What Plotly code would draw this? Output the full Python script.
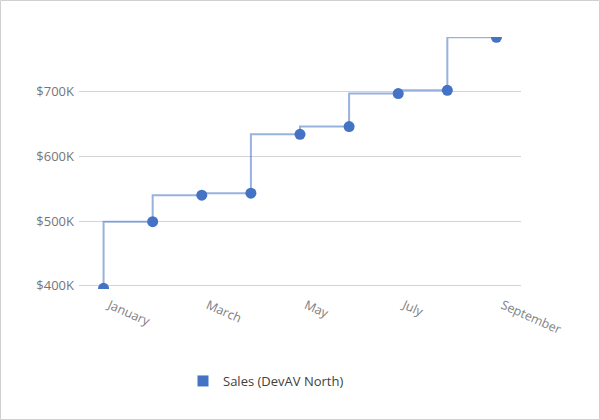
import plotly.graph_objects as go

months = ["January", "February", "March", "April", "May", "June", "July", "August", "September"]
sales = [396000, 499000, 540000, 543000, 634000, 646000, 697000, 702000, 784000]
y_tickvals = [400000, 500000, 600000, 700000]
y_ticktext = ["$400K", "$500K", "$600K", "$700K"]
x_tickvals = ["January", "March", "May", "July", "September"]
series_name = "Sales (DevAV North)"

W, H = 600, 420
ML, MR, MT, MB = 79, 79, 37, 131
pw, ph = W - ML - MR, H - MT - MB

fig = go.Figure()
fig.add_trace(go.Scatter(
    x=months, y=sales, mode="lines+markers", line_shape="vh",
    line=dict(color="rgba(68,114,196,0.55)", width=2),
    marker=dict(color="#4472c4", size=11),
    showlegend=False, cliponaxis=True,
))
fig.add_trace(go.Scatter(
    x=[None], y=[None], mode="markers", name=series_name,
    marker=dict(color="#4472c4", size=11, symbol="square"),
    showlegend=True,
))

fig.update_layout(
    width=W, height=H,
    margin=dict(l=ML, r=MR, t=MT, b=MB, pad=0),
    paper_bgcolor="white", plot_bgcolor="white",
    font=dict(family="Open Sans, Noto Sans, sans-serif", size=12, color="#767676"),
    xaxis=dict(
        type="category", categoryorder="array", categoryarray=months,
        range=[-0.5, len(months) - 0.5],
        tickmode="array", tickvals=x_tickvals, ticktext=x_tickvals,
        tickangle=24, showgrid=False, zeroline=False, showline=False,
        ticklabelstandoff=6, ticklabelshift=6,
        tickfont=dict(color="#808080", size=12.5),
    ),
    yaxis=dict(
        range=[sales[0] - 1000, sales[-1] + 400],
        tickmode="array", tickvals=y_tickvals, ticktext=y_ticktext,
        showgrid=True, gridcolor="#d3d3d3", gridwidth=1,
        zeroline=False, showline=False, ticks="",
        ticklabelstandoff=4,
        tickfont=dict(color="#767676", size=13),
    ),
    legend=dict(
        orientation="h", x=(183 - ML) / pw, xanchor="left",
        y=-(381 - MT - ph) / ph, yanchor="middle",
        font=dict(color="#404040", size=13), itemwidth=30,
        bgcolor="rgba(0,0,0,0)",
    ),
    shapes=[dict(
        type="rect", xref="paper", yref="paper",
        x0=-(ML - 0.5) / pw, x1=1 + (MR - 0.5) / pw,
        y0=-(MB - 0.5) / ph, y1=1 + (MT - 0.5) / ph,
        line=dict(color="#d0d0d0", width=1), layer="below",
    )],
)

fig.write_html("out.html", config={"displayModeBar": False},
               post_script="document.body.style.margin='0';document.body.style.overflow='hidden';")
